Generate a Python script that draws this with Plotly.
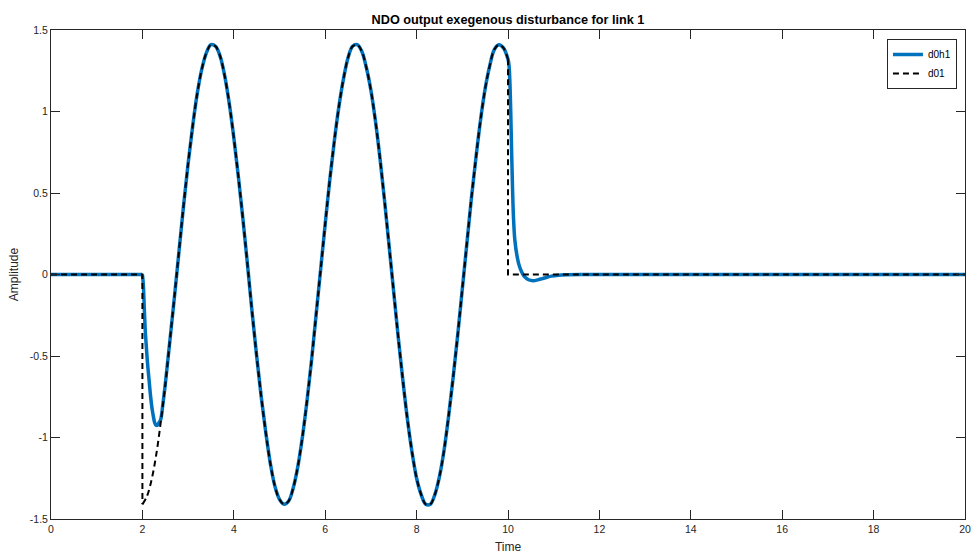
import numpy as np
import plotly.graph_objects as go

# ---- data ----
# d01: zero before t=2, oscillating disturbance 2<=t<=10 (sampled every 0.1), zero afterwards
d01_osc = [
    -1.41, -1.36, -1.26, -1.11, -0.91, -0.68, -0.41, -0.14, 0.14, 0.42,
    0.68, 0.91, 1.11, 1.26, 1.36, 1.41, 1.40, 1.34, 1.22, 1.05,
    0.84, 0.60, 0.34, 0.06, -0.23, -0.50, -0.75, -0.97, -1.16, -1.30,
    -1.38, -1.41, -1.39, -1.31, -1.18, -1.00, -0.78, -0.53, -0.25, 0.03,
    0.31, 0.58, 0.82, 1.03, 1.20, 1.33, 1.40, 1.41, 1.37, 1.27,
    1.13, 0.94, 0.71, 0.45, 0.17, -0.11, -0.39, -0.65, -0.89, -1.09,
    -1.25, -1.35, -1.41, -1.41, -1.35, -1.24, -1.08, -0.87, -0.63, -0.37,
    -0.09, 0.19, 0.47, 0.72, 0.95, 1.14, 1.28, 1.38, 1.41, 1.39,
    1.32,
]
t_osc = list(np.round(np.linspace(2.0, 10.0, len(d01_osc)), 2))

# d0h1 (observer estimate): transient after t=2
t_h_start = [2.00, 2.02, 2.04, 2.06, 2.08, 2.10, 2.12, 2.15, 2.18, 2.21,
             2.24, 2.27, 2.30, 2.33, 2.36, 2.40, 2.45, 2.50]
h_start = [0.0, -0.06, -0.20, -0.33, -0.42, -0.50, -0.57, -0.66, -0.75, -0.82,
           -0.87, -0.91, -0.925, -0.925, -0.91, -0.89, -0.79, -0.675]
# d0h1 decay after t=10
t_h_tail = [10.02, 10.04, 10.06, 10.08, 10.10, 10.12, 10.15, 10.20, 10.25, 10.30,
            10.35, 10.45, 10.55, 10.65, 10.75, 10.85, 10.95, 11.10, 11.30, 11.60]
h_tail = [1.29, 1.19, 1.00, 0.74, 0.52, 0.35, 0.21, 0.11, 0.05, 0.015,
          -0.01, -0.032, -0.038, -0.033, -0.025, -0.017, -0.010, -0.004, -0.001, 0.0]
t_end = 20.0

x_ticks = [0, 2, 4, 6, 8, 10, 12, 14, 16, 18, 20]
y_ticks = [-1.5, -1, -0.5, 0, 0.5, 1, 1.5]
y_tick_text = ["-1.5", "-1", "-0.5", "0", "0.5", "1", "1.5"]

# ---- assemble series (split into smooth and straight pieces) ----
n_skip = 6  # d0h1 coincides with d01 from t=2.6
h_pre_x, h_pre_y = [0.0, t_h_start[0]], [0.0, h_start[0]]
h_mid_x = t_h_start + t_osc[n_skip:] + t_h_tail
h_mid_y = h_start + d01_osc[n_skip:] + h_tail
h_post_x, h_post_y = [t_h_tail[-1], t_end], [h_tail[-1], 0.0]

d_pre_x, d_pre_y = [0.0, t_osc[0], t_osc[0]], [0.0, 0.0, d01_osc[0]]
d_post_x, d_post_y = [t_osc[-1], t_osc[-1], t_end], [d01_osc[-1], 0.0, 0.0]

FONT = "Liberation Sans, Arial, Helvetica, sans-serif"
AX = "#262626"
BLUE = "#0072BD"
blue_line = dict(color=BLUE, width=3.5)
dash_line = dict(color="black", width=2, dash="6px,4px")

fig = go.Figure()
fig.add_trace(go.Scatter(x=h_pre_x, y=h_pre_y, mode="lines", name="d0h1",
                         legendgroup="h", line=blue_line))
fig.add_trace(go.Scatter(x=h_mid_x, y=h_mid_y, mode="lines", name="d0h1",
                         legendgroup="h", showlegend=False, line=dict(shape="spline", **blue_line)))
fig.add_trace(go.Scatter(x=h_post_x, y=h_post_y, mode="lines", name="d0h1",
                         legendgroup="h", showlegend=False, line=blue_line))
fig.add_trace(go.Scatter(x=d_pre_x, y=d_pre_y, mode="lines", name="d01",
                         legendgroup="d", line=dash_line))
fig.add_trace(go.Scatter(x=t_osc, y=d01_osc, mode="lines", name="d01",
                         legendgroup="d", showlegend=False, line=dict(shape="spline", **dash_line)))
fig.add_trace(go.Scatter(x=d_post_x, y=d_post_y, mode="lines", name="d01",
                         legendgroup="d", showlegend=False, line=dash_line))

axis_common = dict(
    showgrid=False, zeroline=False, showline=True, linecolor=AX, linewidth=1,
    mirror="ticks", ticks="inside", ticklen=9, tickcolor=AX, tickwidth=1,
    tickfont=dict(family=FONT, size=10.5, color=AX), automargin=False,
)

fig.update_layout(
    width=971, height=554,
    margin=dict(l=51, r=6, t=30, b=35, autoexpand=False),
    paper_bgcolor="white", plot_bgcolor="white",
    title=dict(text="<b>NDO output exegenous disturbance for link 1</b>",
               x=(51 + 965) / 2 / 971, xanchor="center", y=1 - 20 / 554, yanchor="middle",
               font=dict(family=FONT, size=12.7, color="black")),
    xaxis=dict(range=[0, 20], tickvals=x_ticks,
               title=dict(text="Time", standoff=10, font=dict(family=FONT, size=12, color=AX)),
               **axis_common),
    yaxis=dict(range=[-1.5, 1.5], tickvals=y_ticks, ticktext=y_tick_text,
               title=dict(text="Amplitude", standoff=8, font=dict(family=FONT, size=12, color=AX)),
               **axis_common),
    showlegend=True,
    legend=dict(x=0.9912, xanchor="right", y=0.9816, yanchor="top",
                bgcolor="white", bordercolor=AX, borderwidth=1,
                font=dict(family=FONT, size=10, color="black"),
                tracegroupgap=0, itemwidth=30),
)

fig.write_html(
    "out.html",
    config={"displayModeBar": False},
    post_script="document.body.style.margin='0';document.body.style.overflow='hidden';",
)
